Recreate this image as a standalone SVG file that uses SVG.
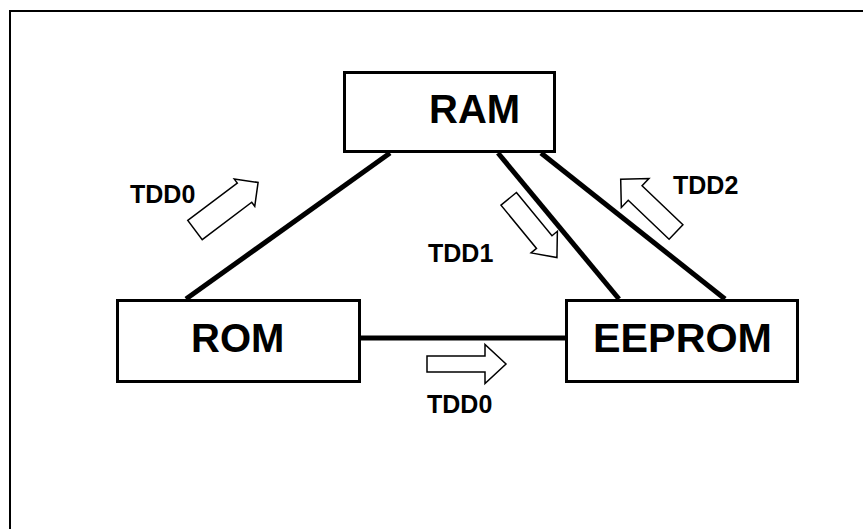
<svg xmlns="http://www.w3.org/2000/svg" width="863" height="529" viewBox="0 0 863 529">
<style>
.box{fill:#fff;stroke:#000;stroke-width:3}
.conn{stroke:#000;stroke-width:5;fill:none}
.blk{fill:#fff;stroke:#000;stroke-width:1.5;stroke-linejoin:miter}
.big{font-family:"Liberation Sans",Arial,sans-serif;font-weight:bold;font-size:40px;fill:#000}
.lbl{font-family:"Liberation Sans",Arial,sans-serif;font-weight:bold;font-size:25px;fill:#000}
</style>
<rect x="0" y="0" width="863" height="529" fill="#fff"/>
<path d="M10,529 V11 H863" fill="none" stroke="#000" stroke-width="2"/>
<g id="connectors">
<line class="conn" x1="390" y1="153" x2="186" y2="299"/>
<line class="conn" x1="361" y1="338" x2="565" y2="338"/>
<line class="conn" x1="498" y1="153" x2="619" y2="299"/>
<line class="conn" x1="541" y1="153" x2="725" y2="299"/>
</g>
<g id="RAM">
<rect class="box" x="344.5" y="72.5" width="210" height="79"/>
<text class="big" x="429" y="123">RAM</text>
</g>
<g id="ROM">
<rect class="box" x="117.5" y="300.5" width="242" height="81"/>
<text class="big" x="191" y="351.5">ROM</text>
</g>
<g id="EEPROM">
<rect class="box" x="566.5" y="300.5" width="231" height="81"/>
<text class="big" x="593" y="351.5" textLength="179" lengthAdjust="spacingAndGlyphs">EEPROM</text>
</g>
<g id="arrows">
<polygon class="blk" transform="translate(195,230) rotate(-37)" points="0,-12 62,-12 62,-17 79,0 62,17 62,12 0,12"/>
<polygon class="blk" transform="translate(508.7,198.8) rotate(50.6)" points="0,-10 56,-10 56,-17 76,0 56,17 56,10 0,10"/>
<polygon class="blk" transform="translate(676,232) rotate(-136.3)" points="0,-10 56.5,-10 56.5,-20 76.5,0 56.5,20 56.5,10 0,10"/>
<polygon class="blk" transform="translate(427,364)" points="0,-8 58,-8 58,-19.5 79,0 58,19.5 58,8 0,8"/>
</g>
<g id="labels">
<text class="lbl" x="130" y="203">TDD0</text>
<text class="lbl" x="428" y="261.5">TDD1</text>
<text class="lbl" x="673" y="194">TDD2</text>
<text class="lbl" x="427" y="412.5">TDD0</text>
</g>
</svg>
